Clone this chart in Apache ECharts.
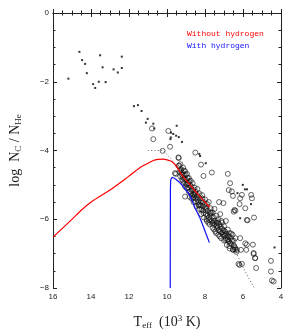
<!DOCTYPE html>
<html><head><meta charset="utf-8">
<script src="https://cdn.jsdelivr.net/npm/echarts@6/dist/echarts.min.js"></script>
<style>html,body{margin:0;padding:0;background:#fff}#c{width:299px;height:330px}</style>
</head><body><div id="c"></div>
<script>
// Axis ticks
var xTicks = [4, 6, 8, 10, 12, 14, 16];
var yTicks = [-8, -6, -4, -2, 0];

// Filled points
var dotsX = [15.19,14.61,14.47,14.31,14.22,13.52,13.39,13.59,13.89,13.78,13.23,12.81,12.59,12.38,12.38,
  11.74,11.53,11.34,11.02,11.11,10.72,10.67,9.79,9.49,9.67,9.52,9.38,9.80,9.82,9.21,8.30,8.26,7.96,
  6.01,5.90,5.79,6.29,5.58,6.15,4.34];
var dotsY = [-1.91,-1.13,-1.37,-1.48,-1.75,-1.23,-1.58,-2.00,-2.07,-2.18,-2.01,-1.64,-1.73,-1.27,-1.60,
  -2.71,-2.68,-2.85,-3.08,-3.19,-3.22,-3.36,-3.48,-3.28,-3.52,-3.57,-3.61,-3.62,-3.67,-3.75,-4.10,-4.16,-4.37,
  -5.00,-5.13,-5.13,-5.24,-5.56,-5.97,-6.82];

// Open circles
var circX = [10.79,10.72,9.93,9.84,10.23,9.38,9.35,8.51,8.21,6.80,6.68,6.75,6.59,6.53,6.15,6.06,5.57,5.53,6.18,6.40,
  5.88,5.80,5.42,8.08,7.64,7.26,7.03,5.80,5.83,5.44,5.36,5.31,4.53,4.53,4.48,4.39,6.18,6.06,6.11,6.41,
  6.53,9.53,9.05,6.45,5.76,6.32,9.58,9.40,6.49,6.15,5.88,5.48,5.44,5.36,6.24,
  9.40,9.35,9.30,9.30,9.25,9.20,9.20,9.15,9.10,9.10,9.05,9.05,9.00,8.95,8.95,8.90,8.85,8.85,8.80,8.80,
  8.75,8.70,8.70,8.65,8.60,8.60,8.55,8.50,8.50,8.45,8.40,8.40,8.35,8.30,8.30,8.25,8.20,8.20,8.15,8.10,
  8.10,8.05,8.00,8.00,7.95,7.90,7.90,7.85,7.80,7.80,7.75,7.70,7.70,7.65,7.60,7.60,7.55,7.50,7.50,7.45,
  7.40,7.40,7.35,7.30,7.30,7.25,7.20,7.20,7.15,7.10,7.10,7.05,7.00,7.00,6.95,6.90,6.90,6.85,6.80,6.80,
  6.75,6.70,6.70,6.65,6.60,6.55,6.50,6.45,6.40,6.35,
  9.28,9.18,9.08,8.98,8.88,8.78,8.68,8.58,8.48,8.38,8.28,8.18,8.08,7.98,7.88,7.78,7.68,7.58,7.48,7.38,
  7.28,7.18,7.08,6.98,6.88,6.78,6.68,6.58,6.48,6.42,
  9.22,9.12,9.02,8.92,8.82,8.72,8.62,8.52,8.42,8.32,8.22,8.12,8.02,7.92,7.82,7.72,7.62,7.52,7.42,7.32,
  7.22,7.12,7.02,6.92,6.82,6.72,6.62,6.52,
  9.14,8.94,8.74,8.54,8.34,8.14,7.94,7.74,7.54,7.34,7.14,6.94,6.74];
var circY = [-3.36,-3.67,-3.43,-3.89,-4.01,-4.22,-4.44,-4.06,-4.41,-4.68,-4.95,-5.15,-5.19,-5.32,-5.39,-5.29,-5.29,-5.39,-5.56,-5.75,
  -5.68,-6.02,-5.95,-4.74,-4.64,-5.50,-5.53,-6.74,-6.89,-7.01,-7.13,-7.42,-7.21,-7.52,-7.78,-7.81,-7.33,-7.30,-6.89,-6.84,
  -6.89,-4.68,-5.34,-5.73,-6.03,-6.89,-4.66,-4.20,-5.78,-6.55,-6.70,-6.74,-6.98,-7.13,-7.30,
  -4.45,-4.62,-4.75,-4.40,-4.55,-4.85,-4.65,-4.50,-4.95,-4.72,-4.60,-5.05,-4.85,-5.10,-4.68,-4.95,-5.20,-4.80,-5.00,-5.35,
  -4.88,-5.15,-5.40,-4.95,-5.28,-5.50,-5.08,-5.40,-5.20,-5.62,-5.30,-5.12,-5.50,-5.70,-5.25,-5.40,-5.60,-5.85,-5.30,-5.50,
  -5.75,-5.95,-5.42,-5.65,-5.85,-5.55,-6.05,-5.75,-5.50,-5.95,-6.15,-5.68,-5.90,-6.05,-5.80,-6.25,-5.95,-6.15,-5.70,-6.35,
  -5.90,-6.10,-6.25,-6.00,-6.45,-6.15,-5.85,-6.35,-6.55,-6.10,-6.28,-6.45,-6.20,-6.62,-6.35,-6.05,-6.55,-6.75,-6.30,-6.48,
  -6.65,-6.40,-6.85,-6.55,-6.72,-6.45,-6.62,-6.80,-6.55,-6.95,
  -4.58,-4.78,-4.82,-4.98,-5.08,-5.18,-5.32,-5.36,-5.48,-5.42,-5.58,-5.72,-5.82,-5.74,-5.90,-6.02,-5.82,-6.10,-6.04,-6.18,
  -6.32,-6.22,-6.38,-6.48,-6.42,-6.58,-6.70,-6.62,-6.76,-6.88,
  -4.70,-4.58,-4.70,-4.80,-4.90,-5.05,-5.15,-5.25,-5.35,-5.58,-5.48,-5.62,-5.58,-6.00,-6.10,-5.80,-6.12,-6.30,-6.40,-6.10,
  -6.50,-6.40,-6.32,-6.60,-6.60,-6.78,-6.42,-6.88,
  -4.88,-5.00,-5.25,-5.30,-5.60,-5.40,-5.68,-5.85,-6.05,-6.20,-6.05,-6.45,-6.50];

// Dotted fit line
var fitX = [11.0, 10.25, 10.0, 9.75, 9.0, 8.0, 7.0, 6.5, 6.0, 5.4];
var fitY = [-4.0, -4.0, -4.12, -4.27, -4.75, -5.4, -6.25, -6.8, -7.4, -8.0];

// Model: without hydrogen (red)
var noHX = [16.0, 15.03, 14.5, 13.97, 13.0, 12.04, 11.43, 10.99, 10.72, 10.45, 10.2, 9.95, 9.75, 9.49, 9.22, 8.79, 8.35, 7.75];
var noHY = [-6.52, -6.02, -5.73, -5.49, -5.15, -4.76, -4.50, -4.37, -4.29, -4.26, -4.25, -4.28, -4.32, -4.47, -4.71, -5.0, -5.29, -5.65];

// Model: with hydrogen (blue)
var wHX = [9.83, 9.82, 9.80, 9.72, 9.5, 9.22, 8.79, 8.52, 8.26, 7.77];
var wHY = [-8.0, -5.2, -4.85, -4.78, -4.85, -5.0, -5.32, -5.68, -5.97, -6.68];

function zip(a, b) { return a.map(function (v, i) { return [v, b[i]]; }); }
function minus(v) { return String(v).replace('-', '\u2212'); }

var chart = echarts.init(document.getElementById('c'), null, {renderer: 'canvas'});
var axisCommon = {
  type: 'value', splitLine: {show: false},
  axisLine: {show: true, lineStyle: {color: '#222', width: 1}},
  axisTick: {show: true, inside: true, length: 4, lineStyle: {color: '#222'}},
  minorTick: {show: true, splitNumber: 4, length: 2.5, lineStyle: {color: '#222'}},
  minorSplitLine: {show: false}
};
var serif = 'Liberation Serif';
var option = {
  animation: false,
  backgroundColor: '#fff',
  grid: {left: 53, right: 18, top: 13, bottom: 42, containLabel: false, outerBoundsMode: 'none'},
  legend: {
    orient: 'vertical', left: 176, top: 25, itemWidth: 0, itemHeight: 0, itemGap: 4,
    textStyle: {fontFamily: 'Liberation Mono', fontSize: 8},
    data: [{name: 'Without hydrogen', textStyle: {color: '#ff0000'}},
           {name: 'With hydrogen', textStyle: {color: '#1010ff'}}]
  },
  xAxis: [
    Object.assign({}, axisCommon, {
      min: xTicks[0], max: xTicks[xTicks.length - 1], interval: 2, inverse: true, position: 'bottom',
      axisLabel: {fontFamily: 'Liberation Sans', fontSize: 8, color: '#222', margin: 5},
      name: '{m|T}{s|eff}{m|  (10}{p|3}{m| K)}', nameLocation: 'middle', nameGap: 26,
      nameTextStyle: {fontFamily: serif, fontSize: 14, color: '#222',
        rich: {m: {fontFamily: serif, fontSize: 14, color: '#222', lineHeight: 16},
               s: {fontFamily: serif, fontSize: 9, color: '#222', verticalAlign: 'bottom', lineHeight: 4},
               p: {fontFamily: serif, fontSize: 9, color: '#222', verticalAlign: 'top', lineHeight: 8}}}
    }),
    Object.assign({}, axisCommon, {
      min: xTicks[0], max: xTicks[xTicks.length - 1], interval: 2, inverse: true, position: 'top',
      axisLabel: {show: false}
    })
  ],
  yAxis: [
    Object.assign({}, axisCommon, {
      min: yTicks[0], max: yTicks[yTicks.length - 1], interval: 2, position: 'left',
      axisLabel: {fontFamily: 'Liberation Sans', fontSize: 8, color: '#222', margin: 4, formatter: minus},
      name: '{m|log  N}{s|C}{m| / N}{s|He}', nameLocation: 'middle', nameGap: 30, nameRotate: 90,
      nameTextStyle: {fontFamily: serif, fontSize: 14, color: '#222',
        rich: {m: {fontFamily: serif, fontSize: 14, color: '#222', lineHeight: 16},
               s: {fontFamily: serif, fontSize: 9, color: '#222', verticalAlign: 'bottom', lineHeight: 4}}}
    }),
    Object.assign({}, axisCommon, {
      min: yTicks[0], max: yTicks[yTicks.length - 1], interval: 2, position: 'right',
      axisLabel: {show: false}
    })
  ],
  series: [
    {name: 'dots', type: 'scatter', data: zip(dotsX, dotsY), symbol: 'rect', symbolSize: 2,
     itemStyle: {color: '#000'}, silent: true, z: 3},
    {name: 'circles', type: 'scatter', data: zip(circX, circY), symbol: 'circle', symbolSize: 5,
     itemStyle: {color: 'rgba(255,255,255,0)', borderColor: '#111', borderWidth: 0.8}, silent: true, z: 3},
    {name: 'fit', type: 'line', data: zip(fitX, fitY), symbol: 'none', smooth: 0.3,
     lineStyle: {type: [1.2, 2], color: '#555', width: 0.8}, z: 2},
    {name: 'Without hydrogen', type: 'line', data: zip(noHX, noHY), symbol: 'none', smooth: 0.3,
     lineStyle: {color: '#ff0000', width: 1.2}, itemStyle: {color: '#ff0000'}, z: 4},
    {name: 'With hydrogen', type: 'line', data: zip(wHX, wHY), symbol: 'none', smooth: 0.2,
     lineStyle: {color: '#1010ff', width: 1.2}, itemStyle: {color: '#1010ff'}, z: 4}
  ]
};
chart.setOption(option);
</script></body></html>
